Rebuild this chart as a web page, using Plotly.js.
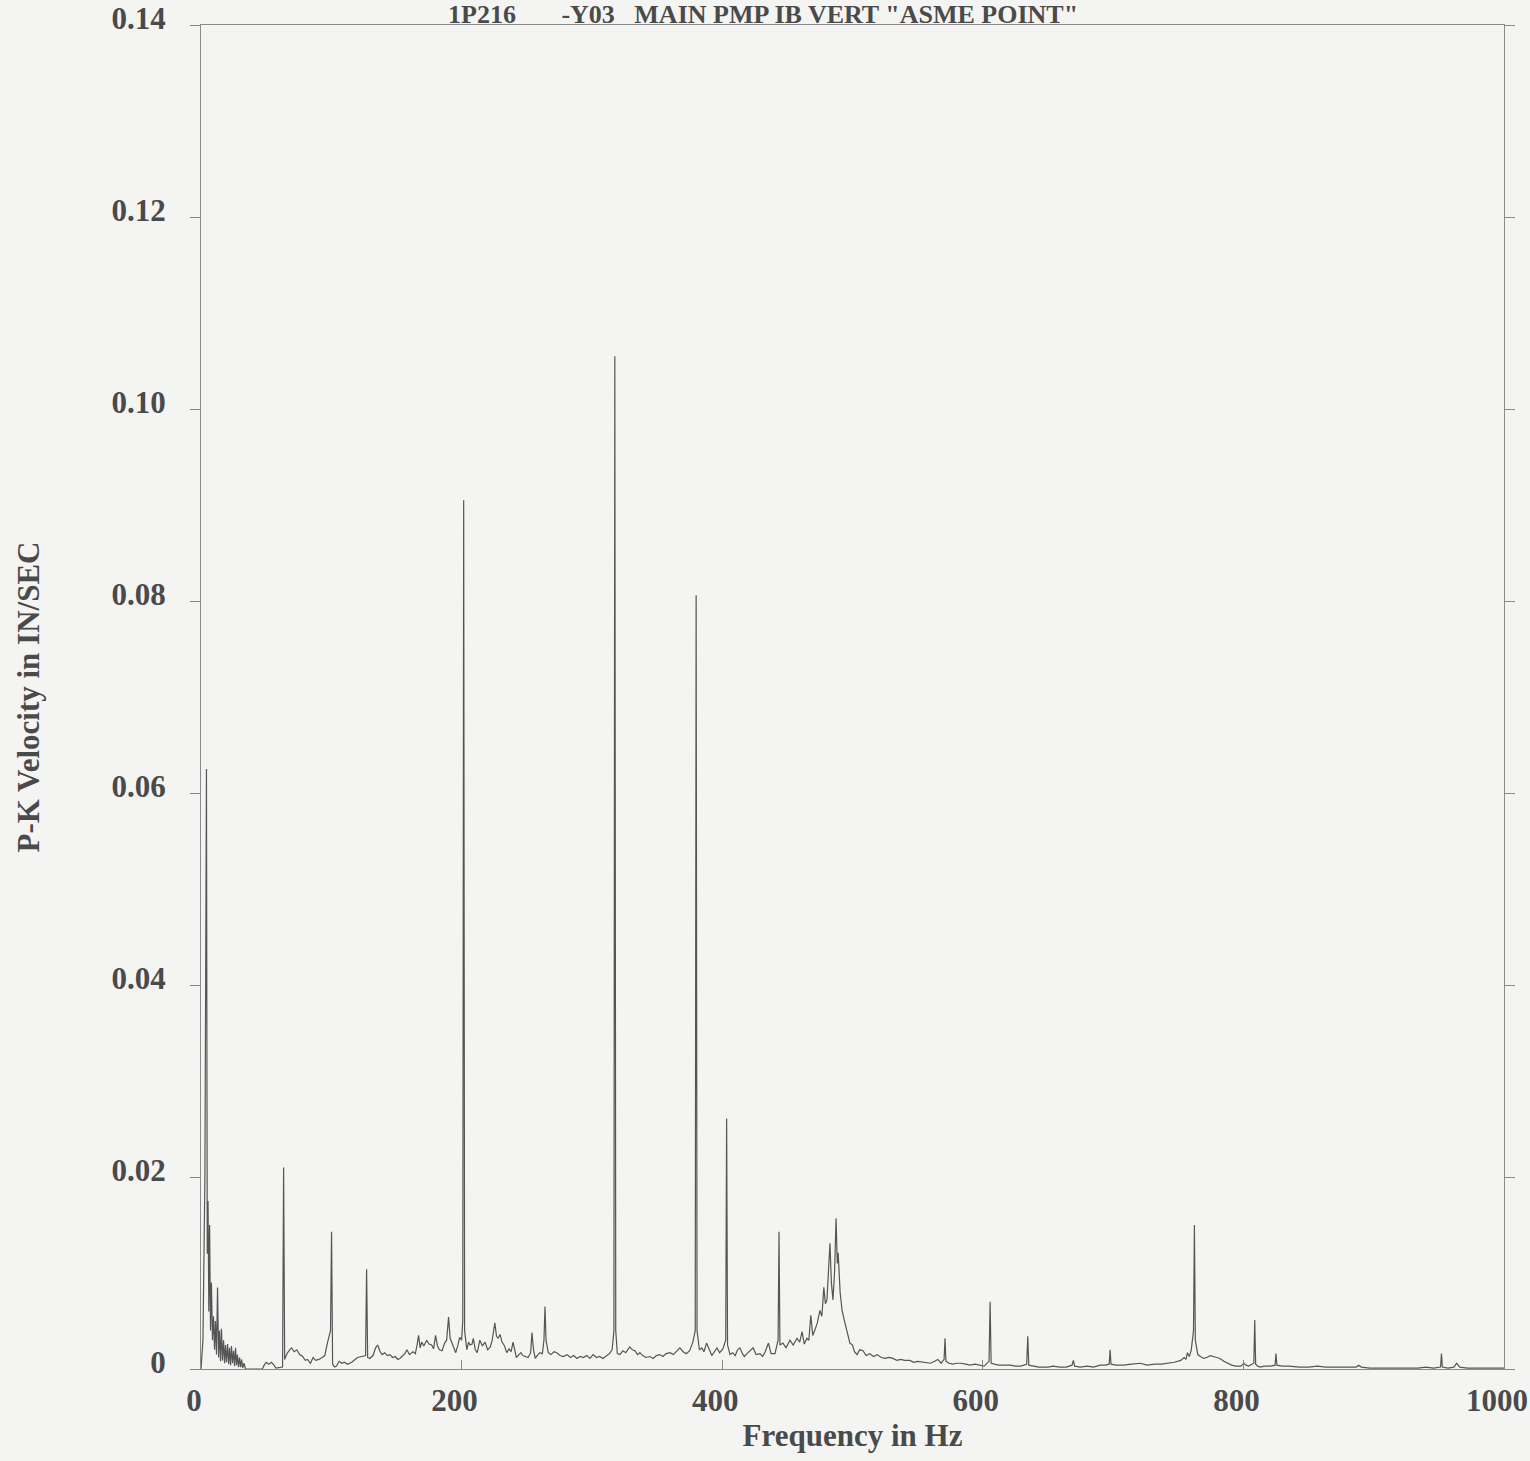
<!DOCTYPE html>
<html>
<head>
<meta charset="utf-8">
<script src="https://cdn.plot.ly/plotly-3.0.1.min.js"></script>
<style>html,body{margin:0;padding:0;background:#f4f4f2;}</style>
</head>
<body>
<div id="chart" style="width:1530px;height:1461px;"></div>
<script>
const chartTitle = '1P216\u00A0\u00A0\u00A0\u00A0\u00A0\u00A0\u00A0-Y03\u00A0\u00A0\u00A0MAIN PMP IB VERT "ASME POINT"';
const xTitle = 'Frequency in Hz';
const yTitle = 'P-K Velocity in IN/SEC';
const xTickVals = [0, 200, 400, 600, 800, 1000];
const xTickText = ['0', '200', '400', '600', '800', '1000'];
const yTickVals = [0, 0.02, 0.04, 0.06, 0.08, 0.10, 0.12, 0.14];
const yTickText = ['0', '0.02', '0.04', '0.06', '0.08', '0.10', '0.12', '0.14'];

const freqHz = [
0,1.5,3.0,4.2,4.8,5.4,6.0,6.6,7.3,8.0,8.8,9.6,10.4,11.1,11.9,12.7,13.5,14.2,15.0,15.7,16.5,17.3,18.1,18.8,19.6,20.4,21.2,21.9,22.7,23.4,24.2,25.0,25.8,26.5,27.3,28.0,28.8,29.6,30.4,31.2,32.0,33.0,34.2,
47.0,48.5,50.0,52.0,54.0,56.0,57.5,62.6,63.4,64.2,66.0,68.0,69.5,71.5,73.5,75.7,78.0,80.0,81.8,84.0,86.0,88.0,90.5,93.0,95.0,97.0,99.4,100.2,101.0,102.5,104.0,106.0,108.0,110.0,112.5,115.6,118.0,120.2,123.3,126.3,127.1,127.9,129.5,132.0,134.0,135.6,137.5,139.0,141.0,143.0,145.0,147.0,149.0,151.0,152.6,154.5,156.5,158.0,160.0,162.6,164.5,165.8,167.0,168.2,169.4,171.0,173.2,175.0,177.0,178.5,180.0,181.5,183.0,185.0,187.0,188.5,190.0,191.2,192.4,194.0,195.5,197.0,198.5,200.0,200.9,201.6,202.3,204.0,205.3,206.5,208.0,209.0,210.5,212.0,213.0,214.0,216.0,218.0,220.0,222.0,223.5,225.5,226.8,228.0,229.5,231.0,233.0,234.6,236.5,238.0,239.5,241.0,242.0,244.0,245.5,247.0,249.0,251.0,253.0,254.0,255.2,256.5,258.0,260.0,262.0,263.2,264.0,264.8,266.5,268.5,271.0,273.0,275.5,278.0,281.0,283.5,286.0,288.5,291.0,293.5,296.0,298.5,301.0,303.5,306.0,308.5,311.5,313.5,315.5,316.9,317.6,318.3,319.5,321.4,323.8,326.0,329.0,331.0,333.0,335.0,336.8,339.0,341.5,344.5,347.0,349.5,352.0,354.5,357.0,360.0,362.5,365.0,367.5,370.0,372.5,375.0,377.5,379.3,380.0,380.7,382.5,384.4,386.0,388.0,390.0,392.0,394.0,396.0,398.0,400.5,402.7,403.4,404.1,406.0,408.0,410.0,411.8,413.6,415.5,417.0,419.0,421.5,423.7,426.0,429.0,431.0,433.0,435.5,437.5,440.5,442.9,443.6,444.3,446.6,449.0,452.0,454.5,457.4,459.5,461.3,463.0,465.0,466.5,468.0,469.5,471.0,473.0,475.0,476.5,478.0,479.2,480.4,481.5,482.7,483.8,485.0,486.2,487.4,488.3,489.0,490.5,492.0,493.5,495.0,496.5,498.0,500.0,501.5,503.5,505.5,508.0,510.5,513.4,516.0,519.0,522.0,525.0,528.0,531.0,534.0,537.0,540.0,544.0,547.0,550.0,554.0,557.0,560.0,563.0,565.5,568.0,570.3,571.0,571.7,574.0,577.0,580.0,583.0,587.0,590.0,594.0,598.5,601.0,604.8,605.6,606.4,609.0,612.0,616.0,621.0,625.0,629.0,633.7,634.5,635.3,639.0,643.0,646.0,650.0,654.0,659.0,664.0,668.5,669.5,670.5,675.0,680.0,685.0,690.0,694.0,697.0,697.7,698.4,702.0,708.0,714.0,721.0,726.0,732.0,737.0,742.0,747.0,751.9,754.5,756.0,757.0,758.5,760.0,761.7,762.4,763.1,765.0,767.0,769.5,772.0,774.5,777.0,779.5,782.0,785.0,788.0,791.0,794.0,798.0,800.5,802.0,804.0,808.0,808.7,809.4,811.0,813.0,816.0,818.0,821.0,824.3,825.0,825.7,829.7,835.0,843.0,850.0,857.0,863.0,869.0,876.0,882.0,886.5,888.5,890.5,897.0,903.0,907.7,914.0,920.0,927.0,933.8,940.0,946.0,951.3,952.0,952.7,957.0,961.5,963.7,966.0,972.0,980.0,988.0,994.0,1000.0
];

const velInSec = [
0.0000,0.0030,0.0200,0.0625,0.0120,0.0175,0.0060,0.0150,0.0040,0.0090,0.0030,0.0055,0.0020,0.0050,0.0015,0.0085,0.0012,0.0040,0.0008,0.0042,0.0009,0.0030,0.0006,0.0025,0.0007,0.0026,0.0005,0.0022,0.0004,0.0024,0.0006,0.0019,0.0003,0.0022,0.0004,0.0015,0.0002,0.0012,0.0002,0.0010,0.0001,0.0006,0.0000,
0.0000,0.0004,0.0007,0.0005,0.0007,0.0004,0.0001,0.0002,0.0210,0.0010,0.0016,0.0020,0.0022,0.0018,0.0020,0.0015,0.0013,0.0009,0.0010,0.0006,0.0012,0.0009,0.0010,0.0012,0.0014,0.0027,0.0040,0.0143,0.0005,0.0002,0.0003,0.0008,0.0006,0.0007,0.0005,0.0007,0.0010,0.0012,0.0013,0.0014,0.0104,0.0012,0.0011,0.0014,0.0022,0.0025,0.0018,0.0015,0.0017,0.0014,0.0015,0.0012,0.0013,0.0010,0.0011,0.0014,0.0016,0.0020,0.0015,0.0018,0.0016,0.0025,0.0035,0.0022,0.0028,0.0024,0.0030,0.0026,0.0025,0.0021,0.0035,0.0024,0.0020,0.0019,0.0027,0.0030,0.0054,0.0032,0.0028,0.0022,0.0017,0.0024,0.0033,0.0030,0.0050,0.0905,0.0040,0.0020,0.0028,0.0025,0.0026,0.0032,0.0020,0.0017,0.0025,0.0030,0.0024,0.0028,0.0020,0.0023,0.0030,0.0048,0.0034,0.0032,0.0036,0.0028,0.0024,0.0017,0.0021,0.0018,0.0028,0.0020,0.0012,0.0015,0.0017,0.0014,0.0013,0.0012,0.0017,0.0038,0.0020,0.0011,0.0014,0.0017,0.0016,0.0030,0.0065,0.0030,0.0017,0.0015,0.0018,0.0017,0.0014,0.0013,0.0015,0.0012,0.0014,0.0011,0.0013,0.0012,0.0014,0.0011,0.0015,0.0012,0.0013,0.0011,0.0014,0.0016,0.0020,0.0040,0.1055,0.0040,0.0016,0.0015,0.0019,0.0017,0.0023,0.0020,0.0019,0.0015,0.0017,0.0014,0.0012,0.0013,0.0011,0.0014,0.0015,0.0013,0.0016,0.0017,0.0015,0.0019,0.0022,0.0018,0.0016,0.0019,0.0028,0.0040,0.0806,0.0040,0.0020,0.0022,0.0018,0.0027,0.0020,0.0014,0.0018,0.0022,0.0017,0.0021,0.0030,0.0261,0.0025,0.0015,0.0017,0.0014,0.0020,0.0022,0.0016,0.0013,0.0016,0.0019,0.0022,0.0015,0.0016,0.0013,0.0018,0.0027,0.0016,0.0016,0.0030,0.0143,0.0025,0.0027,0.0022,0.0030,0.0025,0.0032,0.0028,0.0039,0.0026,0.0032,0.0030,0.0056,0.0035,0.0040,0.0048,0.0061,0.0055,0.0085,0.0068,0.0072,0.0095,0.0131,0.0090,0.0072,0.0100,0.0157,0.0110,0.0121,0.0080,0.0061,0.0052,0.0044,0.0036,0.0027,0.0025,0.0018,0.0015,0.0020,0.0019,0.0014,0.0016,0.0013,0.0015,0.0012,0.0011,0.0012,0.0011,0.0009,0.0010,0.0009,0.0009,0.0007,0.0008,0.0007,0.0007,0.0006,0.0008,0.0010,0.0006,0.0010,0.0032,0.0008,0.0006,0.0005,0.0006,0.0006,0.0005,0.0004,0.0005,0.0004,0.0003,0.0008,0.0070,0.0006,0.0005,0.0004,0.0004,0.0004,0.0003,0.0003,0.0005,0.0034,0.0004,0.0003,0.0002,0.0002,0.0002,0.0003,0.0002,0.0002,0.0004,0.0009,0.0003,0.0002,0.0003,0.0002,0.0004,0.0004,0.0005,0.0020,0.0005,0.0004,0.0004,0.0005,0.0006,0.0004,0.0005,0.0005,0.0006,0.0007,0.0009,0.0012,0.0010,0.0017,0.0013,0.0020,0.0040,0.0150,0.0030,0.0015,0.0013,0.0011,0.0012,0.0014,0.0013,0.0012,0.0011,0.0008,0.0006,0.0004,0.0003,0.0003,0.0006,0.0004,0.0003,0.0006,0.0051,0.0005,0.0003,0.0002,0.0003,0.0003,0.0003,0.0004,0.0016,0.0004,0.0003,0.0003,0.0002,0.0002,0.0003,0.0002,0.0002,0.0002,0.0002,0.0002,0.0004,0.0002,0.0001,0.0001,0.0001,0.0001,0.0001,0.0001,0.0001,0.0002,0.0001,0.0002,0.0016,0.0002,0.0001,0.0002,0.0006,0.0002,0.0001,0.0001,0.0001,0.0001,0.0001
];

const fontFamily = '"Liberation Serif", "Times New Roman", serif';
const tickFont = {family: fontFamily, size: 31, color: '#4a4a4a', weight: 'bold'};
const axisTitleFont = {family: fontFamily, size: 31, color: '#4a4a4a', weight: 'bold'};

const trace = {
  x: freqHz,
  y: velInSec,
  type: 'scatter',
  mode: 'lines',
  line: {color: '#555555', width: 1.2},
  hoverinfo: 'x+y',
  showlegend: false
};

const layout = {
  width: 1530,
  height: 1461,
  paper_bgcolor: '#f4f4f2',
  plot_bgcolor: '#f4f4f2',
  margin: {l: 201, r: 26, t: 25, b: 92},
  font: tickFont,
  showlegend: false,
  xaxis: {
    range: [0, 1000],
    tickvals: xTickVals,
    ticktext: xTickText,
    ticks: 'inside',
    ticklen: 9,
    tickcolor: '#888',
    showgrid: false,
    zeroline: false,
    showline: true,
    linecolor: '#8a8a8a',
    linewidth: 1,
    mirror: true,
    ticklabelstandoff: 4,
    ticklabelshift: -7,
    tickfont: tickFont,
    title: {text: xTitle, font: axisTitleFont, standoff: 4}
  },
  yaxis: {
    range: [0, 0.14],
    tickvals: yTickVals,
    ticktext: yTickText,
    ticks: 'outside',
    ticklen: 10,
    tickcolor: '#888',
    showgrid: false,
    zeroline: false,
    showline: true,
    linecolor: '#8a8a8a',
    linewidth: 1,
    mirror: 'ticks',
    ticklabelstandoff: 18,
    ticklabelshift: -7,
    ticklabeloverflow: 'allow',
    tickfont: tickFont,
    title: {text: yTitle, font: axisTitleFont, standoff: 62}
  },
  annotations: [{
    text: chartTitle,
    xref: 'paper', yref: 'paper',
    x: (763 - 201) / 1303, y: 1 - 6 / 1344,
    xanchor: 'center', yanchor: 'bottom',
    showarrow: false,
    font: {family: fontFamily, size: 26, color: '#4a4a4a', weight: 'bold'}
  }]
};

Plotly.newPlot('chart', [trace], layout, {displayModeBar: false, staticPlot: true});
</script>
</body>
</html>
